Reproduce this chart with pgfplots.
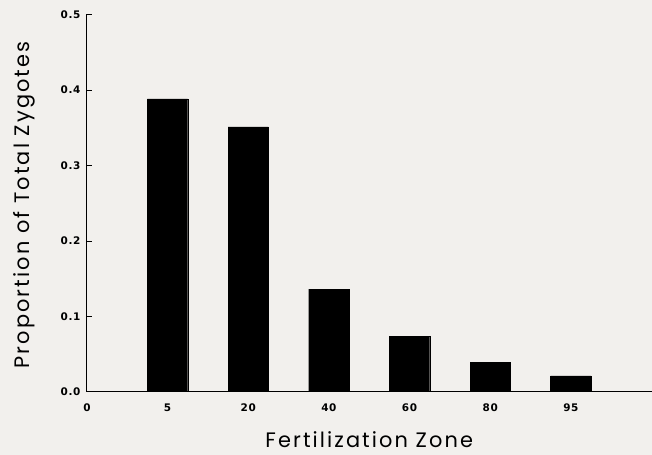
\documentclass[border=0pt]{standalone}
\usepackage{fontspec}
\setmainfont{Liberation Sans}
\newfontfamily\titlefont[LetterSpace=10]{Poppins}
\newfontfamily\tickfont[LetterSpace=6]{DejaVu Sans}
\usepackage{pgfplots}
\pgfplotsset{compat=1.18}
\definecolor{bgcol}{RGB}{242,240,237}
\begin{document}
\begin{tikzpicture}[x=1bp,y=1bp]
\fill[bgcol] (0,0) rectangle (652,455);
\begin{axis}[
  at={(87bp,63bp)}, anchor=south west,
  scale only axis, width=565bp, height=377.5bp,
  xmin=0, xmax=7, ymin=0, ymax=0.5,
  axis lines=left, axis line style={-, line width=1pt},
  xtick={0,1,2,3,4,5,6}, xticklabels={0,5,20,40,60,80,95},
  ytick={0,0.1,0.2,0.3,0.4,0.5},
  major x tick style={draw=none},
  tick align=inside, major tick length=5bp,
  tick style={line width=0.6pt, black},
  y tick label style={/pgf/number format/fixed, /pgf/number format/fixed zerofill, /pgf/number format/precision=1, xshift=-3bp},
  ticklabel style={font=\tickfont\bfseries\fontsize{10.5}{10.5}\selectfont},
  /pgf/number format/assume math mode=true,
  x tick label style={yshift=-9bp},
  xlabel={\titlefont Fertilization Zone},
  ylabel={\titlefont Proportion of Total Zygotes},
  label style={font=\fontsize{21}{21}\selectfont},
  xlabel style={at={(axis description cs:0.5,-0.149)}, anchor=base},
  ylabel style={at={(axis description cs:-0.1009,0.495)}, anchor=base, rotate=0},
]
\addplot[ybar, bar width=0.5, fill=black, draw=black] coordinates {
  (1,0.388) (2,0.351) (3,0.136) (4,0.073) (5,0.039) (6,0.021)
};
\end{axis}
\end{tikzpicture}
\end{document}
